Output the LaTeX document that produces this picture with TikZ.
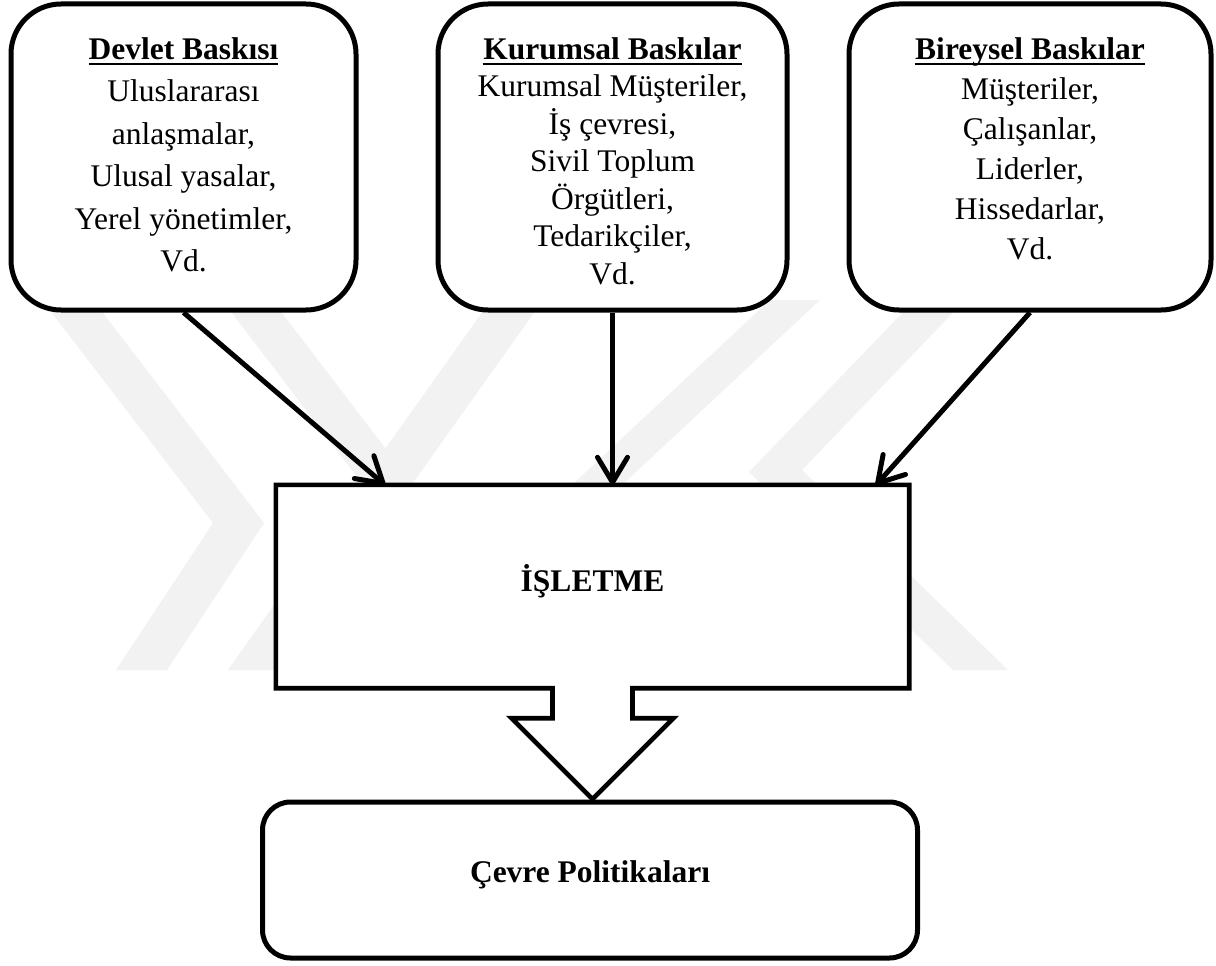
\documentclass[tikz,border=0pt]{standalone}
\usepackage{fontspec}
\setmainfont{Liberation Serif}
\usetikzlibrary{arrows.meta,calc}

% bold title with a fixed-position underline (crosses descenders)
\newsavebox\titlebox
\newcommand\undertitle[1]{\sbox\titlebox{\bfseries #1}\rlap{\rule[-0.19em]{\wd\titlebox}{0.085em}}\usebox\titlebox}

\begin{document}
\begin{tikzpicture}[x=1pt, y=-1pt,
  pressure/.style={draw, line width=5pt, rounded corners=50pt, fill=white,
                   inner sep=0pt, minimum height=306pt},
  listtext/.style={anchor=north, align=center, inner sep=0pt},
  heading/.style={anchor=base, inner sep=0pt,
                  font=\fontsize{31.5}{37}\selectfont\bfseries},
  flow/.style={line width=5pt, -{Straight Barb[length=25pt,width=30pt,round]}},
  wmband/.style={fill=black!5}]

\fill[white] (0,0) rectangle (1216,966);
\useasboundingbox (0,0) rectangle (1216,966);

% faint background logo bands
\fill[wmband] (42,300) -- (93,300) -- (264,523) -- (167,670) -- (116,670) -- (213,523) -- cycle;
\fill[wmband] (222,300) -- (272,300) -- (385.5,448.4) -- (491,300) -- (543,300)
              -- (280,670) -- (228,670) -- (361,482) -- cycle;
\fill[wmband] (770,300) -- (820,300) -- (424,670) -- (374,670) -- cycle;
\fill[wmband] (915,300) -- (965,300) -- (802,470) -- (1008,670) -- (953,670) -- (749,472) -- cycle;

% pressure boxes
\node[pressure, minimum width=345pt] (gov)   at (183.5,157) {};
\node[pressure, minimum width=349pt] (inst)  at (612.5,157) {};
\node[pressure, minimum width=362pt] (indiv) at (1030,157) {};

\node[listtext, font=\fontsize{31.5}{42.5}\selectfont] (govtext) at (183.5,35)
  {\rule{0pt}{24pt}\undertitle{Devlet Baskısı}\\Uluslararası\\anlaşmalar,\\Ulusal yasalar,\\Yerel yönetimler,\\Vd.};
\node[listtext, font=\fontsize{31.5}{37.5}\selectfont] (insttext) at (612.5,35)
  {\rule{0pt}{24pt}\undertitle{Kurumsal Baskılar}\\Kurumsal Müşteriler,\\İş çevresi,\\Sivil Toplum\\Örgütleri,\\Tedarikçiler,\\Vd.};
\node[listtext, font=\fontsize{31.5}{40}\selectfont] (indivtext) at (1030,35)
  {\rule{0pt}{24pt}\undertitle{Bireysel Baskılar}\\Müşteriler,\\Çalışanlar,\\Liderler,\\Hissedarlar,\\Vd.};

% firm box merged with the block arrow below it
\node[fill=white, minimum width=633pt, minimum height=203pt, inner sep=0pt] (firm) at (592.5,586.5) {};
\draw[line width=4.6pt, line join=miter, fill=white]
  (firm.north west) -- (firm.north east) -- (firm.south east)
  -- ($(firm.south)+(40,0)$) -- ++(0,30) -- ++(41,0)
  -- ($(firm.south)+(0,111)$)
  -- ($(firm.south)+(-81,30)$) -- ++(41,0)
  -- ($(firm.south)+(-40,0)$) -- (firm.south west) -- cycle;
\node[heading] (firmlabel) at (592.5,591) {İŞLETME};

% policy box
\node[draw, line width=5pt, rounded corners=28pt, fill=white, minimum width=655pt,
      minimum height=156pt, inner sep=0pt] (policy) at (590,880) {};
\node[heading] (policylabel) at (590,882) {Çevre Politikaları};

% pressure arrows into the firm
\coordinate (govin) at (385,485);
\coordinate (indivin) at (876,485);
\draw[flow] (gov.south) -- (govin);
\draw[flow] (inst.south) -- (inst.south |- firm.north);
\draw[flow] (indiv.south) -- (indivin);
\end{tikzpicture}
\end{document}
